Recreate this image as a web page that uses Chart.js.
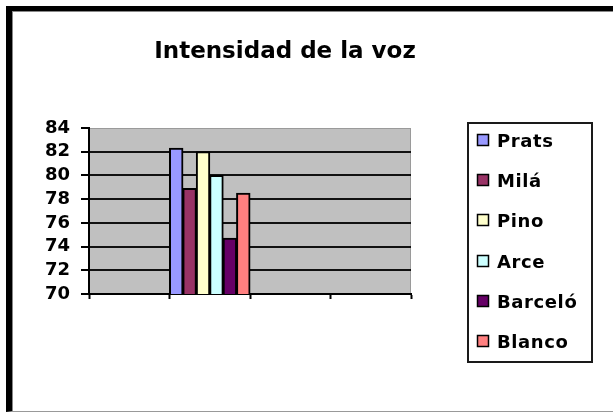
<!DOCTYPE html>
<html>
<head>
<meta charset="utf-8">
<script src="https://cdn.jsdelivr.net/npm/chart.js@4"></script>
<style>
    body { margin: 0; background: #fff; }
    #wrap { position: relative; width: 613px; height: 415px; }
    #frame {
        position: absolute; left: 6px; top: 6px; width: 607px; height: 400px;
        border-left: 6px solid #000; border-top: 5px solid #000; border-bottom: 1px solid #999;
        box-shadow: inset 1px 1px 0 #888; pointer-events: none;
    }
    canvas { position: absolute; left: 0; top: 0; }
</style>
</head>
<body>
<div id="wrap">
    <canvas id="vozChart" width="613" height="415"></canvas>
    <div id="frame"></div>
</div>
<script>
// Chart data
const chartTitle = 'Intensidad de la voz';
const categories = ['', 'Intensidad', '', ''];
const dataCategory = 1; // the only category with values
const speakers = ['Prats', 'Milá', 'Pino', 'Arce', 'Barceló', 'Blanco'];
const intensity = [82.3, 78.9, 82, 80, 74.7, 78.5];
const speakerColors = ['#9999FF', '#993366', '#FFFFCC', '#CCFFFF', '#660066', '#FF8080'];
const yTicks = [70, 72, 74, 76, 78, 80, 82, 84];

const FONT = '"DejaVu Sans", Verdana, sans-serif';

const datasets = speakers.map((name, i) => ({
    label: name,
    data: categories.map((c, j) => j === dataCategory ? intensity[i] : null),
    backgroundColor: speakerColors[i],
    borderColor: '#000',
    borderWidth: 2,
    borderSkipped: 'start',
    inflateAmount: 0.5
}));

// gray plot area background
const plotBackground = {
    id: 'plotBackground',
    beforeDraw(chart) {
        const { ctx, chartArea: a } = chart;
        ctx.save();
        ctx.fillStyle = '#C0C0C0';
        ctx.fillRect(a.left, a.top, a.right - a.left, a.bottom - a.top);
        ctx.strokeStyle = '#9a9a9a';
        ctx.lineWidth = 1;
        ctx.strokeRect(a.left + 0.5, a.top + 0.5, a.right - a.left - 1, a.bottom - a.top - 1);
        ctx.restore();
    }
};

// title and boxed legend, drawn like the old spreadsheet chart
const titleAndLegend = {
    id: 'titleAndLegend',
    afterDraw(chart) {
        const ctx = chart.ctx;
        ctx.save();
        ctx.fillStyle = '#000';
        ctx.font = 'bold 23px ' + FONT;
        ctx.textAlign = 'center';
        ctx.textBaseline = 'alphabetic';
        ctx.fillText(chartTitle, 285, 58);

        // legend box
        ctx.strokeStyle = '#1a1a1a';
        ctx.lineWidth = 2;
        ctx.strokeRect(468, 123, 124, 239);

        ctx.font = 'bold 18px ' + FONT;
        ctx.textAlign = 'left';
        if ('letterSpacing' in ctx) ctx.letterSpacing = '0.6px';
        chart.data.datasets.forEach((ds, i) => {
            const cy = Math.round(140 + i * 40.2);
            ctx.fillStyle = ds.backgroundColor;
            ctx.fillRect(477, cy - 6, 12, 12);
            ctx.strokeStyle = '#000';
            ctx.lineWidth = 1.5;
            ctx.strokeRect(477.5, cy - 5.5, 11, 11);
            ctx.fillStyle = '#000';
            ctx.fillText(ds.label, 497, cy + 7);
        });
        ctx.restore();
    }
};

const ctx = document.getElementById('vozChart').getContext('2d');
const vozChart = new Chart(ctx, {
    type: 'bar',
    data: {
        labels: categories,
        datasets: datasets
    },
    options: {
        responsive: false,
        animation: false,
        devicePixelRatio: 1,
        layout: {
            padding: { left: 0, top: 128, right: 202, bottom: 113 }
        },
        datasets: {
            bar: { barPercentage: 1, categoryPercentage: 1 }
        },
        scales: {
            x: {
                grid: {
                    drawOnChartArea: false,
                    drawTicks: true,
                    tickLength: 5,
                    tickColor: '#000',
                    tickWidth: 2
                },
                border: { color: '#000', width: 2 },
                ticks: { display: false },
                afterFit(scale) { scale.height = 8; }
            },
            y: {
                min: 70,
                max: 84,
                afterBuildTicks(scale) {
                    scale.ticks = yTicks.map(v => ({ value: v }));
                },
                grid: {
                    color: c => (c.tick && c.tick.value === 84) ? 'rgba(0,0,0,0)' : '#111',
                    lineWidth: 2,
                    tickLength: 8,
                    tickColor: '#000',
                    tickWidth: 2
                },
                border: { color: '#000', width: 2 },
                ticks: {
                    autoSkip: false,
                    padding: 11,
                    color: '#000',
                    font: { family: FONT, size: 18, weight: 'bold' }
                },
                afterFit(scale) { scale.width = 89; }
            }
        },
        plugins: {
            legend: { display: false },
            title: { display: false },
            tooltip: { enabled: false }
        }
    },
    plugins: [plotBackground, titleAndLegend]
});
</script>
</body>
</html>
